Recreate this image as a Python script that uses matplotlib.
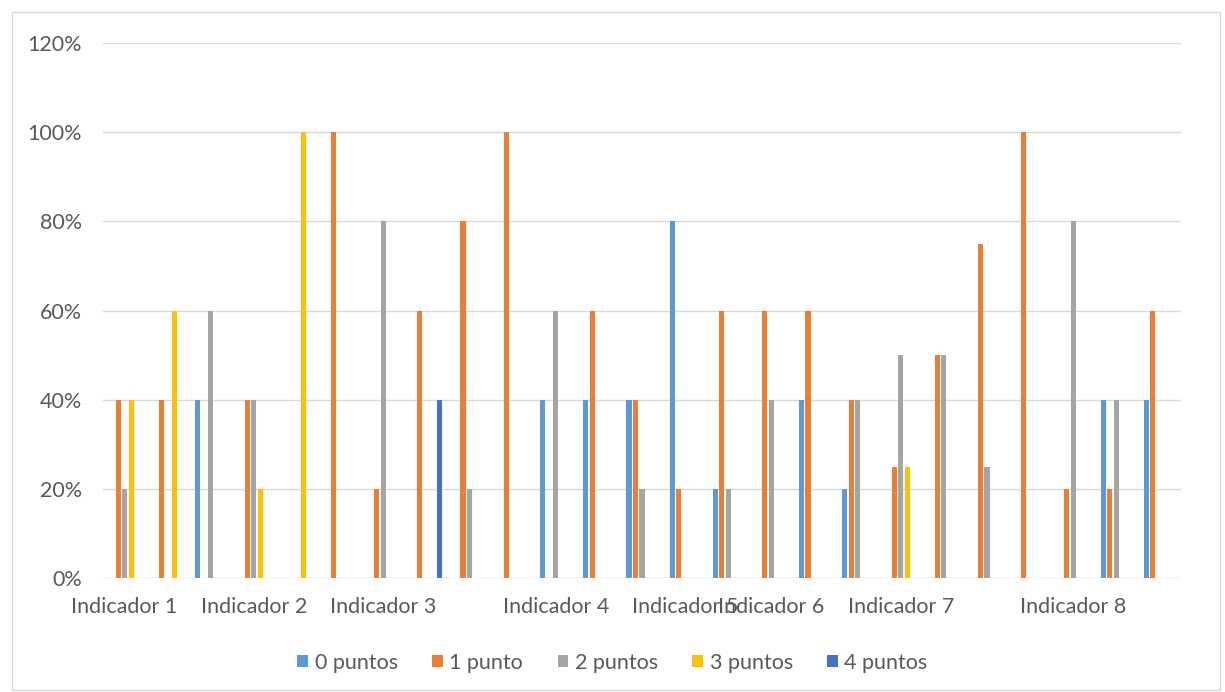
import matplotlib
matplotlib.use("Agg")
import matplotlib.pyplot as plt
from matplotlib.patches import Rectangle
import numpy as np

plt.rcParams['font.family'] = ['Lato', 'DejaVu Sans']

# 25 categories, only some carry a label (as in the Excel original)
labels = ["Indicador 1", "", "", "Indicador 2", "", "", "Indicador 3", "", "", "",
          "Indicador 4", "", "", "Indicador 5", "", "Indicador 6", "", "", "Indicador 7",
          "", "", "", "Indicador 8", "", ""]

series_names = ["0 puntos", "1 punto", "2 puntos", "3 puntos", "4 puntos"]
colors = ["#5B9BD5", "#ED7D31", "#A5A5A5", "#FFC000", "#4472C4"]

p0 = [0, 0, 40, 0, 0, 0, 0, 0, 0, 0, 40, 40, 40, 80, 20, 0, 40, 20, 0, 0, 0, 0, 0, 40, 40]
p1 = [40, 40, 0, 40, 0, 100, 20, 60, 80, 100, 0, 60, 40, 20, 60, 60, 60, 40, 25, 50, 75, 100, 20, 20, 60]
p2 = [20, 0, 60, 40, 0, 0, 80, 0, 20, 0, 60, 0, 20, 0, 20, 40, 0, 40, 50, 50, 25, 0, 80, 40, 0]
p3 = [40, 60, 0, 20, 100, 0, 0, 0, 0, 0, 0, 0, 0, 0, 0, 0, 0, 0, 25, 0, 0, 0, 0, 0, 0]
p4 = [0, 0, 0, 0, 0, 0, 0, 40, 0, 0, 0, 0, 0, 0, 0, 0, 0, 0, 0, 0, 0, 0, 0, 0, 0]
values = [p0, p1, p2, p3, p4]

W, H = 1225, 692
fig = plt.figure(figsize=(W / 100, H / 100), dpi=100)
ax = fig.add_axes([103 / W, 1 - 578 / H, (1181 - 103) / W, (578 - 43) / H])

x = np.arange(len(labels))
step = 0.151
for j, (vals, c, name) in enumerate(zip(values, colors, series_names)):
    ax.bar(x + (j - 2) * step, np.array(vals) / 100, width=0.118, color=c, label=name)

ax.set_xlim(-0.5, len(labels) - 0.5)
ax.set_ylim(0, 1.2)
ax.set_yticks(np.arange(0, 1.21, 0.2))
ax.set_yticklabels([f"{int(round(v * 100))}%" for v in np.arange(0, 1.21, 0.2)])
ax.set_xticks(x)
ax.set_xticklabels(labels)
ax.tick_params(axis='both', length=0, labelsize=15.5, colors="#595959")
ax.tick_params(axis='y', pad=15)
ax.tick_params(axis='x', pad=14)
ax.grid(axis='y', color="#D9D9D9", linewidth=1)
ax.set_axisbelow(True)
for s in ax.spines.values():
    s.set_visible(False)
ax.axhline(0, color="#D9D9D9", linewidth=1, zorder=0)

leg = fig.legend(loc="center", bbox_to_anchor=(0.5, 1 - 663 / H), ncol=5, frameon=False,
                 fontsize=15.5, handlelength=0.5, handleheight=0.5, columnspacing=1.6,
                 handletextpad=0.3)
for t in leg.get_texts():
    t.set_color("#595959")

fig.patches.append(Rectangle((12 / W, 1 - 690 / H), (1220 - 12) / W, (690 - 12) / H,
                             transform=fig.transFigure, fill=False, edgecolor="#D9D9D9",
                             linewidth=1))

fig.savefig("out.png", dpi=100)
